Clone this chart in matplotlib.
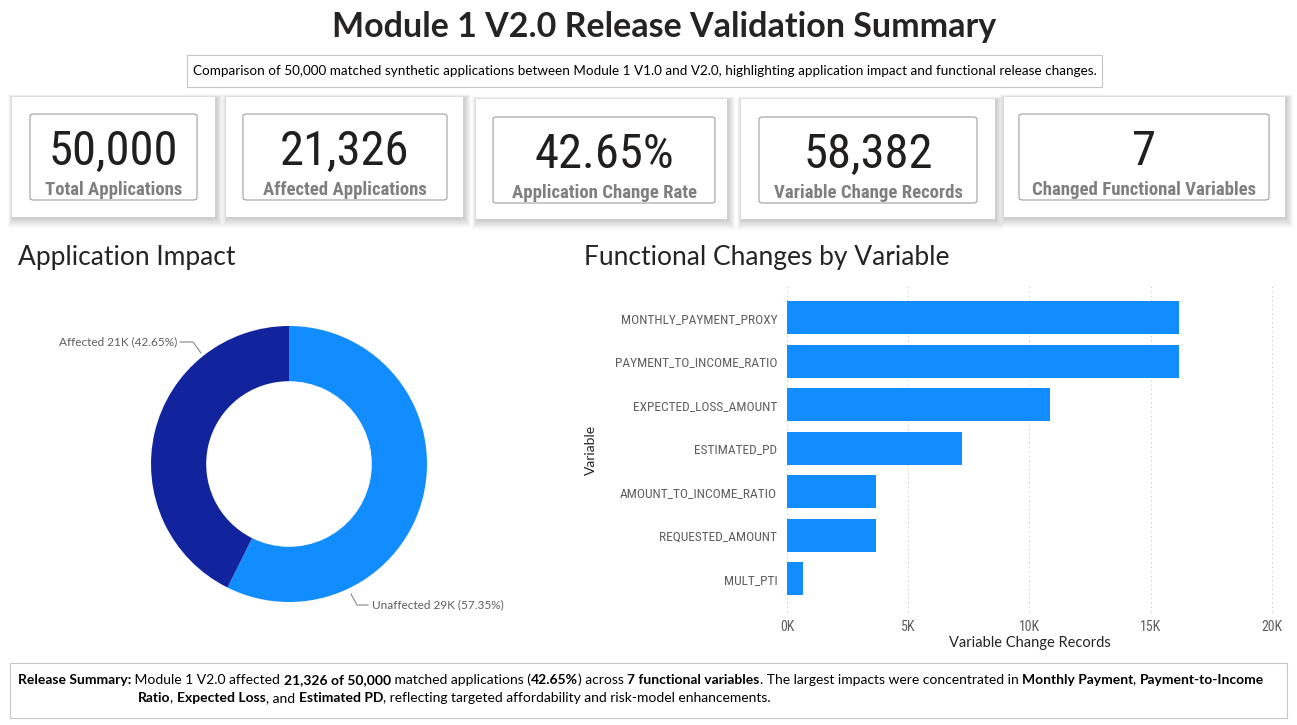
import matplotlib
matplotlib.use("Agg")
import matplotlib.pyplot as plt
from matplotlib.patches import Rectangle, FancyBboxPatch
from matplotlib.lines import Line2D
from matplotlib.ticker import FuncFormatter, MultipleLocator

# ---------------- data ----------------
title = "Module 1 V2.0 Release Validation Summary"
subtitle = ("Comparison of 50,000 matched synthetic applications between Module 1 V1.0 and V2.0, "
            "highlighting application impact and functional release changes.")

kpi_values = ["50,000", "21,326", "42.65%", "58,382", "7"]
kpi_labels = ["Total Applications", "Affected Applications", "Application Change Rate",
              "Variable Change Records", "Changed Functional Variables"]

donut_labels = ["Unaffected", "Affected"]
donut_values = [28674, 21326]
donut_texts = ["Unaffected 29K (57.35%)", "Affected 21K (42.65%)"]

variables = ["MONTHLY_PAYMENT_PROXY", "PAYMENT_TO_INCOME_RATIO", "EXPECTED_LOSS_AMOUNT",
             "ESTIMATED_PD", "AMOUNT_TO_INCOME_RATIO", "REQUESTED_AMOUNT", "MULT_PTI"]
change_records = [16150, 16150, 10850, 7200, 3680, 3680, 672]

summary_line1 = [("Release Summary:", True), (" Module 1 V2.0 affected ", False),
                 ("21,326 of 50,000", True), (" matched applications (", False),
                 ("42.65%", True), (") across ", False), ("7 functional variables", True),
                 (". The largest impacts were concentrated in ", False),
                 ("Monthly Payment", True), (", ", False), ("Payment-to-Income", True)]
summary_line2 = [("Ratio", True), (", ", False), ("Expected Loss", True), (", and ", False),
                 ("Estimated PD", True),
                 (", reflecting targeted affordability and risk-model enhancements.", False)]

# ---------------- style ----------------
COND = ["Roboto Condensed", "Lato", "DejaVu Sans"]
NORMAL = ["Lato", "DejaVu Sans"]
BLUE = "#118DFF"
DARK = "#12239E"
TXT = "#252423"
GREY = "#605E5C"

W, H = 1297, 725
fig = plt.figure(figsize=(W / 100, H / 100), dpi=100)
fig.patch.set_facecolor("white")


def fx(x):
    return x / W


def fy(y):
    return 1 - y / H


def rect_px(x0, y0, x1, y1, **kw):
    r = Rectangle((fx(x0), fy(y1)), (x1 - x0) / W, (y1 - y0) / H, transform=fig.transFigure, **kw)
    fig.add_artist(r)
    return r


def rbox_px(x0, y0, x1, y1, **kw):
    r = FancyBboxPatch((fx(x0), fy(y1)), (x1 - x0) / W, (y1 - y0) / H,
                       boxstyle="round,pad=0,rounding_size=0.003",
                       transform=fig.transFigure, **kw)
    fig.add_artist(r)
    return r


# title
fig.text(fx(664), fy(27), title, ha="center", va="center", fontsize=24.5, fontweight="bold",
         color=TXT, family=NORMAL)
# subtitle box
rect_px(187, 55, 1102, 87, facecolor="white", edgecolor="#C8C6C4", linewidth=0.8)
fig.text(fx(645), fy(71), subtitle, ha="center", va="center", fontsize=9.7, color="black",
         family=NORMAL)

# KPI cards
outer = [(12, 97, 215, 217), (226, 97, 463, 217), (476, 99, 727, 219),
         (741, 99, 995, 219), (1004, 97, 1285, 217)]
inner = [(30, 114, 197, 200), (243, 114, 447, 200), (493, 117, 715, 203),
         (759, 117, 977, 203), (1019, 114, 1269, 200)]
for (ox0, oy0, ox1, oy1), (ix0, iy0, ix1, iy1), val, lab in zip(outer, inner, kpi_values, kpi_labels):
    for k in range(12, 0, -1):
        rect_px(ox0 - k * 0.4 + 1, oy0 - k * 0.3 + 1, ox1 + k * 0.6 + 1, oy1 + k * 0.8 + 1,
                facecolor="black", edgecolor="none", alpha=0.016)
    rect_px(ox0, oy0, ox1, oy1, facecolor="white", edgecolor="none")
    rbox_px(ix0, iy0, ix1, iy1, facecolor="white", edgecolor="#A19F9D", linewidth=0.8)
    cx = (ix0 + ix1) / 2
    fig.text(fx(cx), fy(iy0 + 38), val, ha="center", va="center", fontsize=35,
             color="#201F1E", family=COND)
    fig.text(fx(cx), fy(iy1 - 10), lab, ha="center", va="center", fontsize=13.5,
             fontweight="bold", color="#7F7F7F", family=COND)

# section titles
fig.text(fx(18), fy(257), "Application Impact", ha="left", va="center", fontsize=19,
         color=TXT, family=NORMAL)
fig.text(fx(584), fy(257), "Functional Changes by Variable", ha="left", va="center",
         fontsize=19, color=TXT, family=NORMAL)

# donut
axd = fig.add_axes([fx(151), fy(602), 276 / W, 276 / H])
axd.pie(donut_values, colors=[BLUE, DARK], startangle=90, counterclock=False,
        radius=1.0, wedgeprops=dict(width=0.4, edgecolor="none"))
axd.set_xlim(-1, 1)
axd.set_ylim(-1, 1)
axd.set_aspect("equal")
axd.axis("off")

# donut labels with leader lines
fig.add_artist(Line2D([fx(201), fx(193), fx(180)], [fy(353), fy(342), fy(342)],
                      transform=fig.transFigure, color="#8A8886", lw=0.8))
fig.text(fx(177), fy(342), donut_texts[1], ha="right", va="center", fontsize=8.5,
         color=GREY, family=NORMAL)
fig.add_artist(Line2D([fx(351), fx(357), fx(368)], [fy(594), fy(605), fy(605)],
                      transform=fig.transFigure, color="#8A8886", lw=0.8))
fig.text(fx(372), fy(605), donut_texts[0], ha="left", va="center", fontsize=8.5,
         color=GREY, family=NORMAL)

# bar chart
top_px, bot_px = 284, 612
axb = fig.add_axes([fx(787), fy(bot_px), (1272 - 787) / W, (bot_px - top_px) / H])
ypos = list(range(len(variables)))
axb.barh(ypos, change_records, height=0.76, color=BLUE)
step = 43.5
axb.set_ylim(len(variables) - 0.5 + (bot_px - 600.5) / step, -0.5 - (296 - top_px) / step)
axb.set_xlim(0, 20000)
axb.xaxis.set_major_locator(MultipleLocator(5000))
axb.xaxis.set_major_formatter(FuncFormatter(lambda v, p: f"{int(v / 1000)}K"))
axb.set_yticks(ypos)
axb.set_yticklabels(variables, family=COND, fontsize=9.6, color=GREY)
for lab in axb.get_xticklabels():
    lab.set_family(COND)
    lab.set_fontsize(10)
    lab.set_color(GREY)
axb.tick_params(length=0)
axb.tick_params(axis="y", pad=7)
axb.tick_params(axis="x", pad=6)
for gl in axb.get_xgridlines():
    gl.set_clip_on(False)
axb.grid(axis="x", linestyle=(0, (1, 3)), color="#C8C6C4", linewidth=0.8)
for gl in axb.get_xgridlines():
    gl.set_clip_on(False)
axb.set_axisbelow(True)
for s in axb.spines.values():
    s.set_visible(False)
axb.set_xlabel("Variable Change Records", family=NORMAL, fontsize=10.5, color=TXT, labelpad=1)
fig.text(fx(591), fy(450), "Variable", rotation=90, ha="center", va="center", fontsize=10,
         color=TXT, family=NORMAL)

# summary box
rect_px(10, 663, 1287, 718, facecolor="white", edgecolor="#C8C6C4", linewidth=0.8)
fig.canvas.draw()
renderer = fig.canvas.get_renderer()


def text_width(s, bold, size):
    kw = dict(fontsize=size, family=NORMAL, fontweight="bold" if bold else "normal")
    t1 = fig.text(0, 0, "|" + s + "|", **kw)
    t2 = fig.text(0, 0, "||", **kw)
    w = t1.get_window_extent(renderer).width - t2.get_window_extent(renderer).width
    t1.remove()
    t2.remove()
    return w


def draw_runs(runs, x, y, size=10):
    for s, bold in runs:
        fig.text(fx(x), fy(y), s, ha="left", va="center", fontsize=size, family=NORMAL,
                 fontweight="bold" if bold else "normal", color="black")
        x += text_width(s, bold, size)


draw_runs(summary_line1, 18, 680)
draw_runs(summary_line2, 138, 698)

fig.savefig("out.png", dpi=100, facecolor="white")
